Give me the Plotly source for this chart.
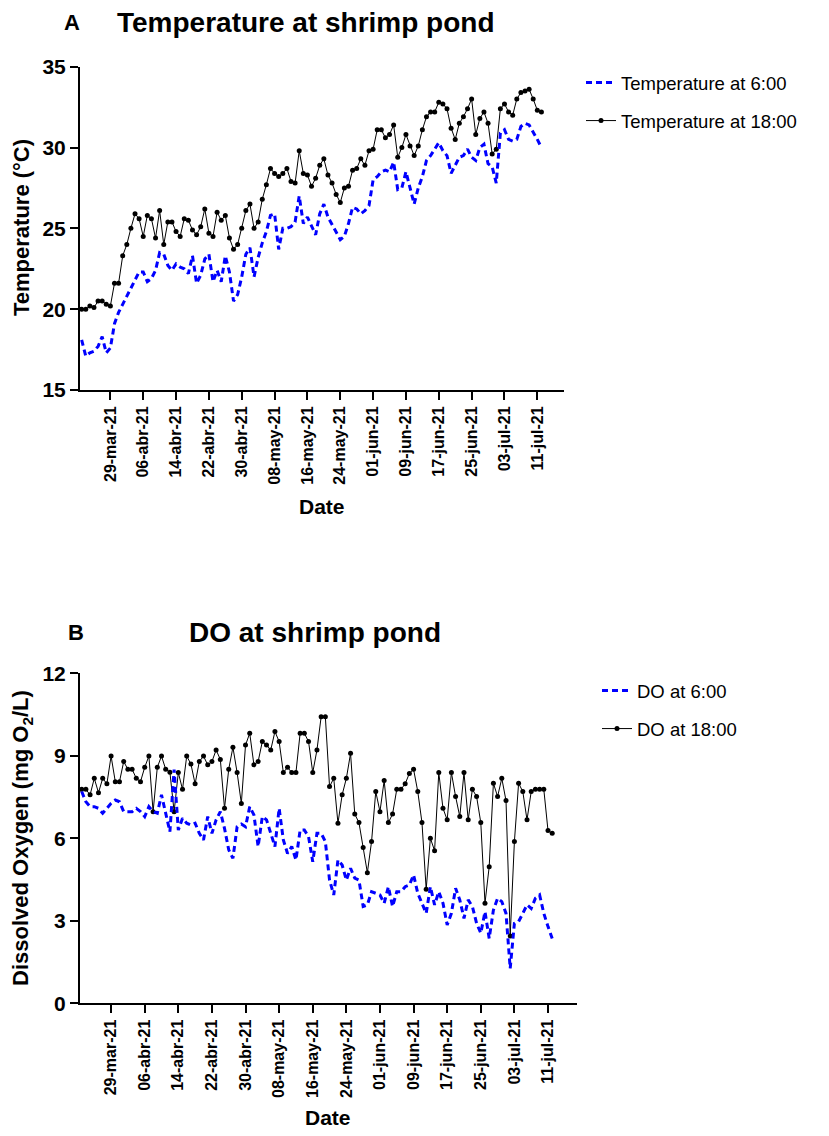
import pandas as pd
import plotly.graph_objects as go

# ---------------- data ----------------
start_date = "2021-03-22"
n_days = 113
dates = pd.date_range(start_date, periods=n_days, freq="D")

temp_6 = [18.1, 17.1, 17.3, 17.4, 17.7, 18.3, 17.3, 17.6, 19.1, 19.8,
          20.3, 20.8, 21.3, 21.8, 22.3, 22.3, 21.7, 21.9, 22.4, 23.5,
          23.4, 22.7, 22.4, 22.8, 22.6, 22.5, 22.2, 23.3, 21.6, 22.1,
          23.1, 23.4, 21.7, 22.4, 21.7, 23.3, 22.3, 20.5, 20.9, 22.0,
          23.4, 23.8, 22.0, 23.2, 24.1, 24.8, 25.8, 25.9, 23.7, 25.0,
          25.0, 25.1, 25.4, 27.0, 25.3, 25.7, 25.1, 24.6, 25.9, 26.5,
          25.7, 25.2, 24.7, 24.3, 24.5, 25.3, 26.3, 26.2, 25.9, 26.1,
          26.4, 28.0, 28.2, 28.5, 28.6, 28.5, 29.1, 27.4, 27.5, 28.5,
          27.5, 26.5, 27.5, 28.2, 29.2, 29.5, 29.9, 30.3, 29.8, 29.5,
          28.4, 28.9, 29.4, 29.5, 29.9, 29.4, 29.2, 30.0, 30.2, 29.0,
          28.8, 27.8, 30.9, 31.1, 30.5, 30.4, 30.5, 31.3, 31.5, 31.4,
          30.9, 30.5, 30.0]

temp_18 = [20.0, 20.0, 20.2, 20.1, 20.5, 20.5, 20.3, 20.2, 21.6, 21.6,
           23.3, 24.0, 25.0, 25.9, 25.6, 24.5, 25.8, 25.6, 24.4, 26.1,
           24.0, 25.4, 25.4, 24.8, 24.5, 25.6, 25.5, 24.9, 24.6, 25.1,
           26.2, 24.7, 24.5, 26.0, 25.5, 25.8, 24.4, 23.7, 24.0, 25.0,
           26.1, 26.5, 25.0, 25.4, 26.8, 27.7, 28.7, 28.4, 28.2, 28.4,
           28.7, 27.9, 27.8, 29.8, 28.4, 28.3, 27.6, 28.1, 28.9, 29.3,
           28.3, 27.8, 27.1, 26.6, 27.5, 27.6, 28.6, 28.7, 29.3, 28.9,
           29.8, 29.9, 31.1, 31.1, 30.6, 30.8, 31.4, 29.4, 30.0, 30.8,
           30.1, 29.5, 30.1, 31.1, 31.9, 32.2, 32.2, 32.8, 32.7, 32.4,
           31.2, 30.5, 31.5, 31.9, 32.4, 33.0, 30.8, 31.8, 32.2, 31.5,
           29.6, 29.9, 32.4, 32.7, 32.2, 32.0, 33.0, 33.4, 33.5, 33.6,
           33.0, 32.3, 32.2]

do_6 = [7.70, 7.33, 7.15, 7.15, 7.09, 6.91, 7.09, 7.27, 7.39, 7.33,
        6.97, 6.97, 6.97, 7.09, 6.97, 6.79, 7.15, 6.97, 6.91, 7.58,
        6.88, 6.24, 8.50, 6.30, 6.73, 6.55, 6.48, 6.55, 6.18, 5.94,
        6.79, 6.18, 6.67, 6.97, 6.36, 5.58, 5.27, 6.42, 6.52, 6.42,
        7.15, 6.85, 5.70, 6.79, 6.67, 6.18, 5.70, 7.09, 5.94, 5.45,
        5.70, 5.21, 6.30, 6.30, 6.06, 5.15, 6.18, 6.18, 5.88, 4.48,
        3.94, 5.21, 5.03, 4.48, 4.91, 4.55, 4.48, 3.52, 3.58, 4.06,
        4.00, 3.94, 3.64, 4.24, 3.52, 4.06, 4.06, 4.24, 4.30, 4.67,
        4.00, 3.64, 3.27, 4.24, 3.58, 4.06, 3.64, 2.85, 3.27, 4.18,
        3.76, 3.09, 3.76, 3.52, 2.91, 2.55, 3.33, 2.36, 3.39, 3.82,
        3.70, 3.27, 1.27, 2.91, 2.97, 3.27, 3.58, 3.45, 3.82, 3.94,
        3.27, 2.79, 2.36]

do_18 = [7.78, 7.78, 7.58, 8.18, 7.66, 8.18, 7.98, 8.99, 8.06, 8.06,
         8.79, 8.51, 8.51, 8.18, 8.06, 8.58, 8.99, 6.97, 8.58, 8.99,
         8.51, 8.40, 6.97, 8.39, 7.78, 8.99, 8.70, 7.98, 8.79, 8.99,
         8.67, 8.79, 9.21, 8.87, 7.09, 8.51, 9.31, 8.39, 7.27, 9.39,
         9.82, 8.67, 8.79, 9.52, 9.39, 9.21, 9.88, 9.52, 8.39, 8.58,
         8.39, 8.39, 9.82, 9.82, 9.52, 8.39, 9.21, 10.42, 10.42, 7.88,
         8.18, 6.55, 7.58, 8.18, 9.09, 6.88, 6.57, 5.67, 4.75, 5.88,
         7.70, 6.97, 8.10, 6.57, 6.88, 7.78, 7.78, 7.98, 8.36, 8.51,
         7.70, 6.57, 4.15, 6.00, 5.55, 8.39, 7.09, 6.67, 8.39, 7.52,
         6.79, 8.39, 6.67, 7.78, 7.52, 6.57, 3.64, 4.97, 8.00, 7.52,
         8.18, 7.37, 2.45, 5.88, 8.00, 7.70, 6.67, 7.70, 7.78, 7.78,
         7.78, 6.28, 6.18]

tick_dates = ["2021-03-29", "2021-04-06", "2021-04-14", "2021-04-22", "2021-04-30",
              "2021-05-08", "2021-05-16", "2021-05-24", "2021-06-01", "2021-06-09",
              "2021-06-17", "2021-06-25", "2021-07-03", "2021-07-11"]
tick_labels = ["29-mar-21", "06-abr-21", "14-abr-21", "22-abr-21", "30-abr-21",
               "08-may-21", "16-may-21", "24-may-21", "01-jun-21", "09-jun-21",
               "17-jun-21", "25-jun-21", "03-jul-21", "11-jul-21"]

temp_ticks = [15, 20, 25, 30, 35]
do_ticks = [0, 3, 6, 9, 12]

# ---------------- figure ----------------
W, H = 829, 1136
OFF = 8  # page body margin offset
FONT = "Liberation Sans, Arial, sans-serif"
BLUE = "#0000ff"

def px_x(p):
    return (p - OFF) / W

def px_y(p):
    return 1 - (p - OFF) / H

fig = go.Figure()

dash_style = dict(color=BLUE, width=3, dash="6px,4px")
black_line = dict(color="black", width=1)
black_marker = dict(color="black", size=5, symbol="circle")

# Panel A
fig.add_trace(go.Scatter(x=dates, y=temp_18, mode="lines+markers", name="Temperature at 18:00",
                         line=black_line, marker=black_marker, xaxis="x", yaxis="y",
                         legend="legend", legendgroup="a18", legendrank=2))
fig.add_trace(go.Scatter(x=dates, y=temp_6, mode="lines", name="Temperature at 6:00",
                         line=dash_style, xaxis="x", yaxis="y",
                         legend="legend", legendgroup="a6", legendrank=1))
# Panel B
fig.add_trace(go.Scatter(x=dates, y=do_18, mode="lines+markers", name="DO at 18:00",
                         line=black_line, marker=black_marker, xaxis="x2", yaxis="y2",
                         legend="legend2", legendgroup="b18", legendrank=2))
fig.add_trace(go.Scatter(x=dates, y=do_6, mode="lines", name="DO at 6:00",
                         line=dash_style, xaxis="x2", yaxis="y2",
                         legend="legend2", legendgroup="b6", legendrank=1))

day0 = pd.Timestamp(start_date)

def d(offset):
    return (day0 + pd.Timedelta(days=offset)).strftime("%Y-%m-%d %H:%M:%S")

axis_common = dict(showline=True, linewidth=2, linecolor="black", mirror=False,
                   ticks="outside", ticklen=8, tickwidth=2, tickcolor="black",
                   showgrid=False, zeroline=False, automargin=False)

xtick = dict(tickvals=tick_dates, ticktext=tick_labels, tickangle=-90,
             tickfont=dict(family=FONT, size=16, color="black", weight="bold"))
ytickfont = dict(family=FONT, size=21, color="black", weight="bold")

fig.update_layout(
    template="simple_white",
    width=W, height=H,
    margin=dict(l=0, r=0, t=0, b=0, autoexpand=False),
    paper_bgcolor="white", plot_bgcolor="white",
    font=dict(family=FONT, color="black"),
    xaxis=dict(domain=[px_x(80), px_x(564)], anchor="y", type="date",
               range=[d(-0.4), d(117.5)], **axis_common, **xtick),
    yaxis=dict(domain=[px_y(390), px_y(66.7)], anchor="x", range=[15, 35],
               tickvals=temp_ticks, tickfont=ytickfont, **axis_common),
    xaxis2=dict(domain=[px_x(80), px_x(577)], anchor="y2", type="date",
                range=[d(-0.4), d(117.9)], **axis_common, **xtick),
    yaxis2=dict(domain=[px_y(1003.3), px_y(673.3)], anchor="x2", range=[0, 12],
                tickvals=do_ticks, tickfont=ytickfont, **axis_common),
    legend=dict(x=px_x(581), y=px_y(64), xanchor="left", yanchor="top",
                font=dict(family=FONT, size=18.5, color="black"),
                bgcolor="rgba(0,0,0,0)", tracegroupgap=11, itemwidth=30),
    legend2=dict(x=px_x(597), y=px_y(672), xanchor="left", yanchor="top",
                 font=dict(family=FONT, size=18.5, color="black"),
                 bgcolor="rgba(0,0,0,0)", tracegroupgap=11, itemwidth=30),
    showlegend=True,
)

bold = dict(family=FONT, color="black", weight="bold")
annots = [
    dict(text="A", x=px_x(72), y=px_y(22), xanchor="center", yanchor="middle", font=dict(size=22, **bold)),
    dict(text="Temperature at shrimp pond", x=px_x(115), y=px_y(22), xanchor="left", yanchor="middle",
         font=dict(size=28, **bold)),
    dict(text="B", x=px_x(76), y=px_y(632), xanchor="center", yanchor="middle", font=dict(size=22, **bold)),
    dict(text="DO at shrimp pond", x=px_x(187), y=px_y(632), xanchor="left", yanchor="middle",
         font=dict(size=28, **bold)),
    dict(text="Temperature (°C)", x=px_x(22), y=px_y(228), xanchor="center", yanchor="middle",
         textangle=-90, font=dict(size=22, **bold)),
    dict(text="Dissolved Oxygen (mg O<sub>2</sub>/L)", x=px_x(22), y=px_y(838), xanchor="center",
         yanchor="middle", textangle=-90, font=dict(size=22, **bold)),
    dict(text="Date", x=px_x(322), y=px_y(506), xanchor="center", yanchor="middle",
         font=dict(size=21, **bold)),
    dict(text="Date", x=px_x(328), y=px_y(1117), xanchor="center", yanchor="middle",
         font=dict(size=21, **bold)),
]
for a in annots:
    a.update(xref="paper", yref="paper", showarrow=False)
fig.update_layout(annotations=annots)

fig.write_html("out.html")
